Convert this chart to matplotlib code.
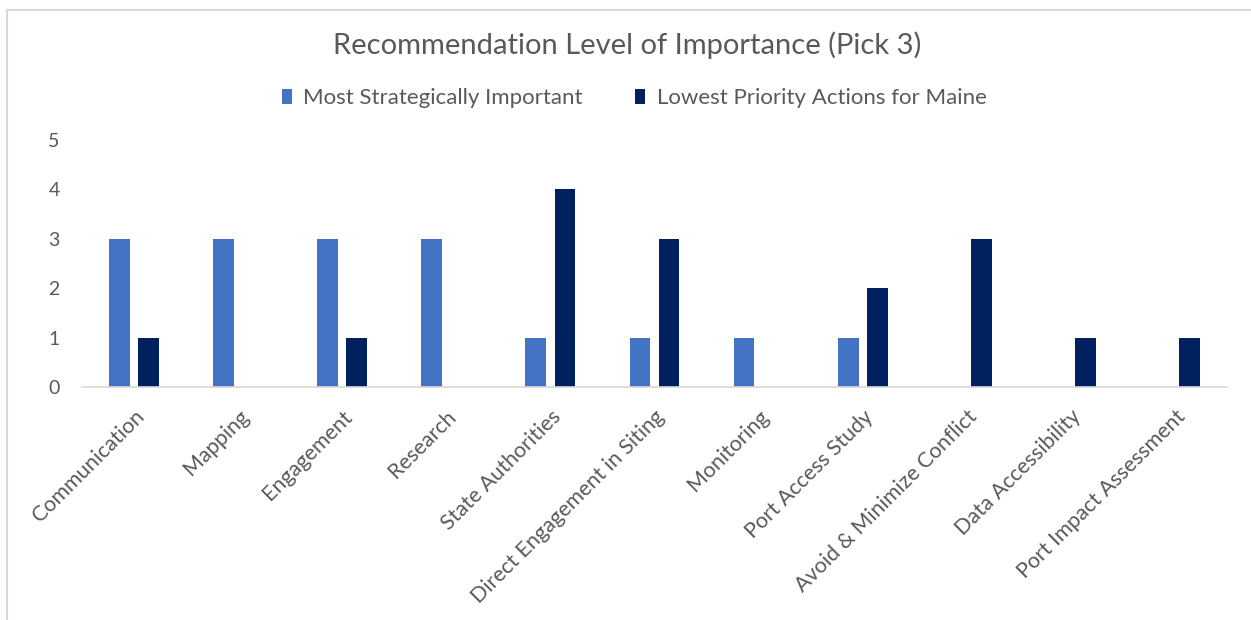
import matplotlib
matplotlib.use("Agg")
import matplotlib.pyplot as plt
import numpy as np
from matplotlib.lines import Line2D

categories = ["Communication", "Mapping", "Engagement", "Research", "State Authorities",
              "Direct Engagement in Siting", "Monitoring", "Port Access Study",
              "Avoid & Minimize Conflict", "Data Accessibility", "Port Impact Assessment"]
most_important = [3, 3, 3, 3, 1, 1, 1, 1, 0, 0, 0]
lowest_priority = [1, 0, 1, 0, 4, 3, 0, 2, 3, 1, 1]
series_names = ["Most Strategically Important", "Lowest Priority Actions for Maine"]
title = "Recommendation Level of Importance (Pick 3)"

plt.rcParams['font.family'] = ['Lato', 'DejaVu Sans']
txt = '#595959'

fig = plt.figure(figsize=(12.51, 6.2), dpi=100)
ax = fig.add_axes([82/1251, 1 - 387/620, (1227-82)/1251, (387-140)/620])

x = np.arange(len(categories))
w = 0.2
off = 0.14
ax.bar(x - off, most_important, w, color='#4472C4', label=series_names[0])
ax.bar(x + off, lowest_priority, w, color='#002060', label=series_names[1])

ax.set_xlim(-0.5, len(categories) - 0.5)
ax.set_ylim(0, 5)
ax.set_yticks(range(6))
for s in ['top', 'right', 'left']:
    ax.spines[s].set_visible(False)
ax.spines['bottom'].set_color('#D9D9D9')
ax.spines['bottom'].set_linewidth(1.2)
ax.tick_params(axis='both', length=0, colors=txt)
ax.tick_params(axis='y', pad=16, labelsize=14)
ax.tick_params(axis='x', pad=14, labelsize=15.5)
ax.set_xticks(x)
ax.set_xticklabels(categories, rotation=45, ha='right', va='top', rotation_mode='anchor', color=txt)

fig.text(627/1251, 1 - 45/620, title, ha='center', va='center', fontsize=21, color=txt)
ax.legend(loc='center', bbox_to_anchor=(634/1251, 1 - 98/620), bbox_transform=fig.transFigure,
          ncol=2, frameon=False, fontsize=16, labelcolor=txt, handlelength=0.45,
          handleheight=0.65, columnspacing=2.4, handletextpad=0.5)

fig.add_artist(Line2D([7/1251, 7/1251], [0, 1 - 10/620], color='#D9D9D9', lw=1.5, transform=fig.transFigure))
fig.add_artist(Line2D([7/1251, 1], [1 - 10/620, 1 - 10/620], color='#D9D9D9', lw=1.5, transform=fig.transFigure))

fig.savefig("out.png", dpi=100, facecolor='white')
